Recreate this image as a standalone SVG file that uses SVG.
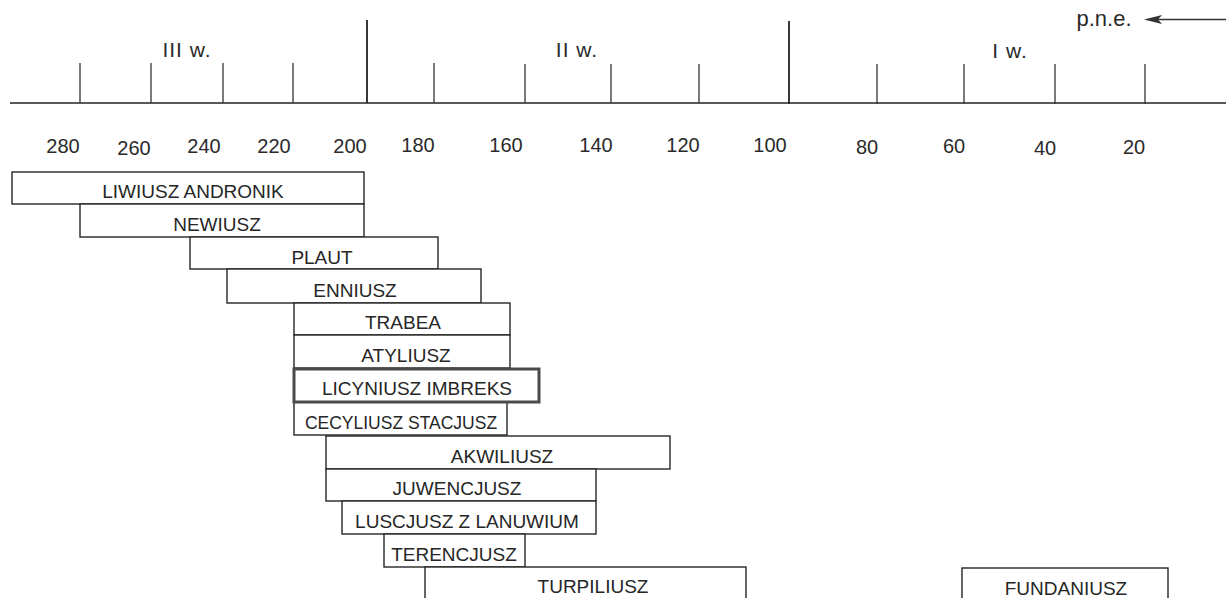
<svg xmlns="http://www.w3.org/2000/svg" width="1226" height="598" viewBox="0 0 1226 598">
<style>
  .bg{fill:#ffffff}
  .axis{stroke:#222;stroke-width:1.5;fill:none}
  .tick{stroke:#333;stroke-width:1.3}
  .big{stroke:#222;stroke-width:1.8}
  .num{font-family:"Liberation Sans",Arial,sans-serif;font-size:20px;fill:#2a2a2a;text-anchor:middle}
  .cent{font-family:"Liberation Sans",Arial,sans-serif;font-size:21px;fill:#2a2a2a;text-anchor:middle}
  .bar rect{fill:#fff;stroke:#262626;stroke-width:1.4}
  .bar text{font-family:"Liberation Sans",Arial,sans-serif;font-size:19px;fill:#262626;text-anchor:middle}
  #licyniusz rect{stroke:#4a4a4a;stroke-width:3}
</style>
<rect class="bg" x="0" y="0" width="1226" height="598"/>

<g id="axis">
  <line class="axis" x1="10" y1="103" x2="1226" y2="103"/>
  <line class="tick" x1="80" y1="63" x2="80" y2="103"/>
  <line class="tick" x1="151" y1="63" x2="151" y2="103"/>
  <line class="tick" x1="223" y1="63" x2="223" y2="103"/>
  <line class="tick" x1="293" y1="63" x2="293" y2="103"/>
  <line class="big" x1="367" y1="20" x2="367" y2="103"/>
  <line class="tick" x1="434" y1="63" x2="434" y2="103"/>
  <line class="tick" x1="525" y1="64" x2="525" y2="103"/>
  <line class="tick" x1="611" y1="64" x2="611" y2="103"/>
  <line class="tick" x1="699" y1="64" x2="699" y2="103"/>
  <line class="big" x1="789" y1="21" x2="789" y2="104"/>
  <line class="tick" x1="877" y1="64" x2="877" y2="104"/>
  <line class="tick" x1="964" y1="64" x2="964" y2="104"/>
  <line class="tick" x1="1055" y1="64" x2="1055" y2="104"/>
  <line class="tick" x1="1145" y1="64" x2="1145" y2="104"/>

  <text class="cent" x="187" y="57" letter-spacing="1">III w.</text>
  <text class="cent" x="577" y="57" letter-spacing="1">II w.</text>
  <text class="cent" x="1010" y="58" letter-spacing="1">I w.</text>

  <text class="cent" x="1104" y="26" style="font-size:22px">p.n.e.</text>
  <line class="tick" x1="1156" y1="19.5" x2="1226" y2="19.5"/>
  <polygon points="1144,19.5 1162,15 1158,19.5 1162,24" fill="#333"/>

  <text class="num" x="63" y="153">280</text>
  <text class="num" x="134" y="155">260</text>
  <text class="num" x="204" y="153">240</text>
  <text class="num" x="274" y="153">220</text>
  <text class="num" x="350" y="153">200</text>
  <text class="num" x="418" y="152">180</text>
  <text class="num" x="506" y="152">160</text>
  <text class="num" x="596" y="152">140</text>
  <text class="num" x="683" y="152">120</text>
  <text class="num" x="770" y="152">100</text>
  <text class="num" x="867" y="154">80</text>
  <text class="num" x="954" y="153">60</text>
  <text class="num" x="1045" y="155">40</text>
  <text class="num" x="1134" y="154">20</text>
</g>

<g id="liwiusz" class="bar"><rect x="12" y="172" width="352" height="32"/><text x="193" y="198">LIWIUSZ ANDRONIK</text></g>
<g id="newiusz" class="bar"><rect x="80" y="204" width="284" height="33"/><text x="217" y="231">NEWIUSZ</text></g>
<g id="plaut" class="bar"><rect x="190" y="237" width="248" height="32"/><text x="322" y="264">PLAUT</text></g>
<g id="enniusz" class="bar"><rect x="227" y="269" width="254" height="34"/><text x="355" y="297">ENNIUSZ</text></g>
<g id="trabea" class="bar"><rect x="294" y="303" width="216" height="32"/><text x="403" y="329">TRABEA</text></g>
<g id="atyliusz" class="bar"><rect x="294" y="335" width="216" height="33"/><text x="406" y="362">ATYLIUSZ</text></g>
<g id="cecyliusz" class="bar"><rect x="294" y="402" width="213" height="33"/><text x="401" y="429" style="font-size:17.5px">CECYLIUSZ STACJUSZ</text></g>
<g id="licyniusz" class="bar"><rect x="294" y="369" width="245" height="33"/><text x="417" y="395">LICYNIUSZ IMBREKS</text></g>
<g id="akwiliusz" class="bar"><rect x="326" y="436" width="344" height="33"/><text x="502" y="463">AKWILIUSZ</text></g>
<g id="juwencjusz" class="bar"><rect x="326" y="469" width="270" height="32"/><text x="457" y="495">JUWENCJUSZ</text></g>
<g id="luscjusz" class="bar"><rect x="342" y="501" width="254" height="33"/><text x="467" y="528">LUSCJUSZ Z LANUWIUM</text></g>
<g id="terencjusz" class="bar"><rect x="384" y="534" width="141" height="33"/><text x="454" y="561">TERENCJUSZ</text></g>
<g id="turpiliusz" class="bar"><rect x="425" y="567" width="321" height="40"/><text x="593" y="593">TURPILIUSZ</text></g>
<g id="fundaniusz" class="bar"><rect x="962" y="568" width="206" height="40"/><text x="1066" y="595">FUNDANIUSZ</text></g>
<g id="connectors"/>
</svg>
